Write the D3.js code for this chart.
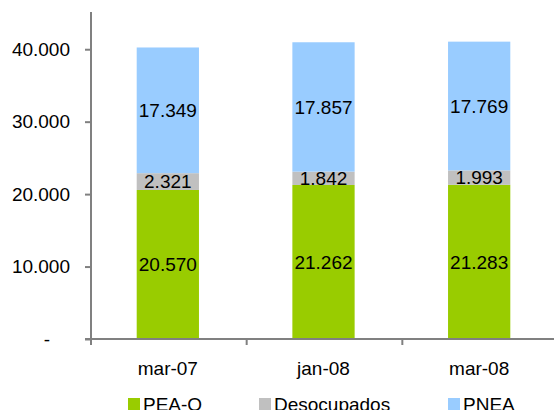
<!DOCTYPE html>
<html>
<head>
<meta charset="utf-8">
<script src="https://cdn.jsdelivr.net/npm/d3@7"></script>
<style>
  html, body { margin: 0; padding: 0; background: #fff; }
  svg text { font-family: "Liberation Sans", Arial, sans-serif; fill: #000; }
</style>
</head>
<body>
<svg id="chart" width="554" height="410"></svg>
<script>
// Categories, series and axis ticks
const categories = ["mar-07", "jan-08", "mar-08"];
const seriesNames = ["PEA-O", "Desocupados", "PNEA"];
const peaO = [20570, 21262, 21283];
const desocupados = [2321, 1842, 1993];
const pnea = [17349, 17857, 17769];
const yTicks = [0, 10000, 20000, 30000, 40000];
const colors = ["#99CC00", "#C0C0C0", "#99CCFF"];

const rows = categories.map((c, i) => ({
  cat: c, "PEA-O": peaO[i], "Desocupados": desocupados[i], "PNEA": pnea[i]
}));
const stacked = d3.stack().keys(seriesNames)(rows);

const svg = d3.select("#chart");
const fmt = v => v === 0 ? "-" : d3.format(",")(v).replace(/,/g, ".");

const x = d3.scaleBand().domain(categories).range([90, 557]).paddingInner(0.6).paddingOuter(0.3);
const y = d3.scaleLinear().domain([0, 45000]).range([339, 13]);

// Stacked bars
const layers = svg.append("g").selectAll("g").data(stacked).join("g")
  .attr("fill", (d, i) => colors[i]);
layers.selectAll("rect").data(d => d).join("rect")
  .attr("x", d => x(d.data.cat))
  .attr("width", x.bandwidth())
  .attr("y", d => y(d[1]))
  .attr("height", d => y(d[0]) - y(d[1]));

// Value labels in each segment
layers.selectAll("text").data((d, i) => d.map(p => ({p, key: seriesNames[i]}))).join("text")
  .attr("x", d => x(d.p.data.cat) + x.bandwidth() / 2)
  .attr("y", d => (y(d.p[0]) + y(d.p[1])) / 2)
  .attr("dy", "0.36em")
  .attr("text-anchor", "middle")
  .style("font-size", "19px")
  .text(d => fmt(d.p.data[d.key]));

// Y axis
const yAxis = svg.append("g").attr("transform", "translate(91,0)")
  .call(d3.axisLeft(y).tickValues(yTicks).tickSize(6).tickPadding(15).tickFormat(fmt));
yAxis.select(".domain").attr("d", `M0,${y(45000) - 1}V${y(0)}`);
yAxis.selectAll(".tick text").style("font-size", "19px").attr("fill", "#000");
yAxis.selectAll(".tick").filter(d => d === 0).select("text").attr("x", -41);

// X axis with ticks between categories
const step = x.step();
const xAxis = svg.append("g").attr("transform", `translate(0,${y(0)})`);
xAxis.append("line").attr("x1", 85).attr("x2", 554).attr("y1", 0).attr("y2", 0);
const bounds = [0, 1, 2].map(i => x.range()[0] + i * step + 1);
xAxis.selectAll("line.tk").data(bounds).join("line").attr("class", "tk")
  .attr("x1", d => d).attr("x2", d => d).attr("y1", 0).attr("y2", 6);
xAxis.selectAll("text").data(categories).join("text")
  .attr("x", d => x(d) + x.bandwidth() / 2)
  .attr("y", 29)
  .attr("dy", "0.36em")
  .attr("text-anchor", "middle")
  .style("font-size", "19px")
  .text(d => d);
svg.selectAll(".domain, .tick line, g line").attr("stroke", "#808080").attr("stroke-width", 2);

// Legend
const legendX = [128, 259, 448];
const legend = svg.append("g").selectAll("g").data(seriesNames).join("g")
  .attr("transform", (d, i) => `translate(${legendX[i]},398)`);
legend.append("rect").attr("width", 12).attr("height", 12).attr("fill", (d, i) => colors[i]);
legend.append("text").attr("x", 15).attr("y", 6).attr("dy", "0.36em")
  .style("font-size", "19px").text(d => d);
</script>
</body>
</html>
